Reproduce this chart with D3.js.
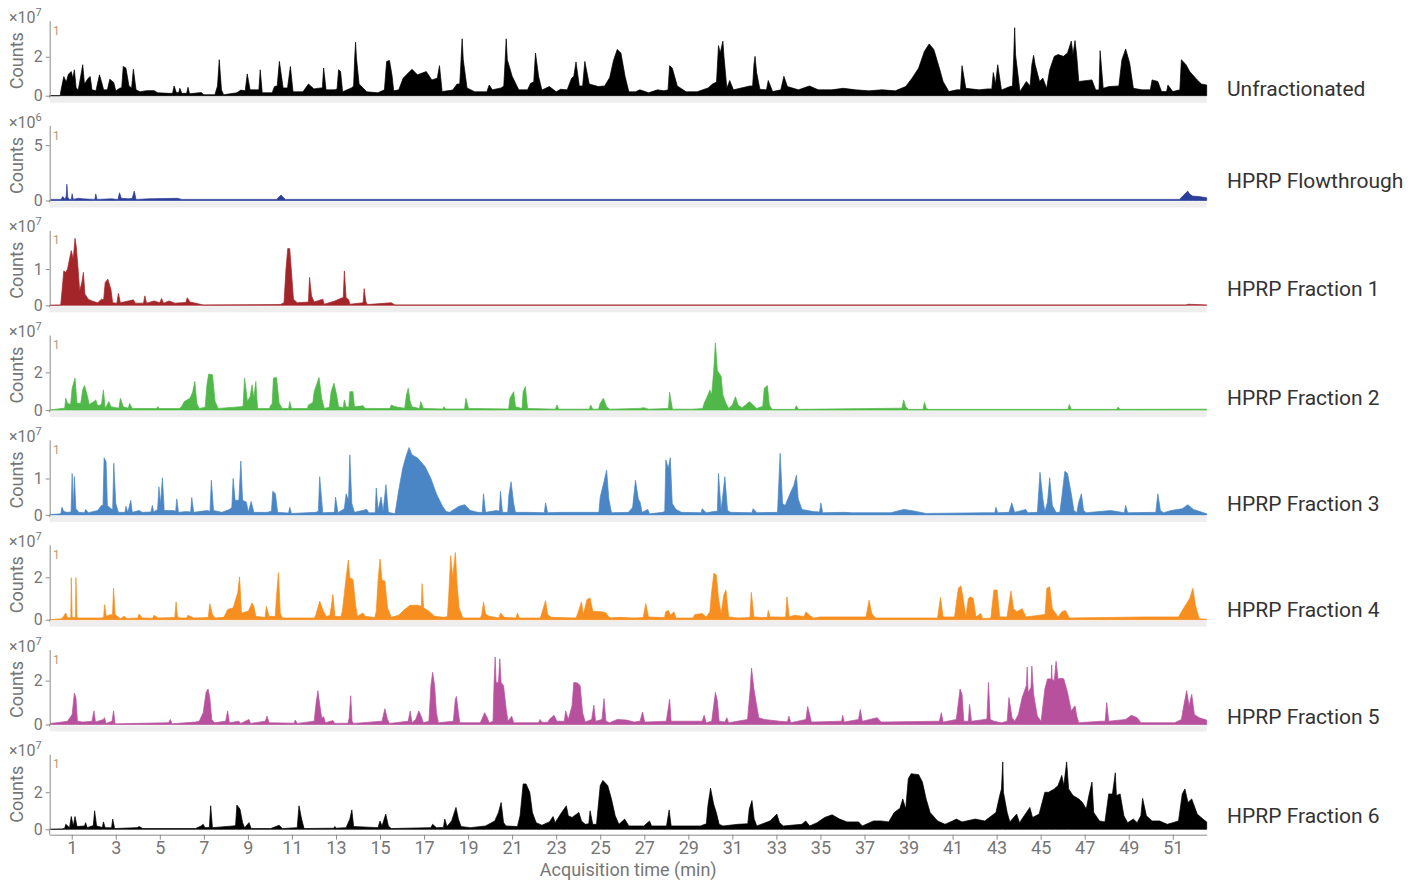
<!DOCTYPE html>
<html>
<head>
<meta charset="utf-8">
<script src="https://cdn.jsdelivr.net/npm/d3@7"></script>
<style>
body { margin: 0; background: #fff; }
text { font-family: Roboto, "Noto Sans", sans-serif; }
</style>
</head>
<body>
<div id="chart"></div>
<script>
// traces: [time (min), counts in units of 10^exp]
var unfractionated = [[0,0],[0.48,0],[0.5,0.2],[0.64,0.98],[0.75,0.7],[0.85,1.1],[0.98,1.24],[1.05,0.9],[1.12,1.33],[1.2,0.4],[1.3,0.3],[1.5,1.59],[1.58,0.6],[1.75,0.9],[1.84,0.98],[1.92,0.3],[2.1,0.25],[2.26,1.07],[2.35,0.73],[2.45,0.3],[2.62,0.3],[2.73,0.85],[2.91,0.67],[3.0,0.25],[3.2,0.4],[3.27,0.4],[3.34,1.5],[3.46,1.42],[3.6,0.5],[3.72,0.4],[3.8,1.36],[3.92,0.3],[4.1,0.2],[4.4,0.26],[4.74,0.26],[4.9,0.15],[5.4,0.12],[5.58,0.12],[5.65,0.5],[5.75,0.16],[5.86,0.15],[5.91,0.38],[6.0,0.12],[6.22,0.12],[6.28,0.43],[6.35,0.1],[6.88,0.16],[7.0,0.05],[7.5,0.05],[7.62,0.5],[7.7,1.85],[7.8,0.3],[7.9,0.05],[8.5,0.15],[8.68,0.29],[8.88,0.25],[8.97,1.12],[9.1,0.3],[9.4,0.3],[9.5,0.3],[9.56,1.33],[9.65,0.15],[10.1,0.15],[10.21,0.47],[10.33,0.5],[10.43,1.76],[10.6,0.4],[10.8,0.4],[10.93,1.5],[11.05,0.2],[11.5,0.2],[11.75,0.6],[12.0,0.35],[12.3,0.4],[12.38,0.4],[12.44,1.42],[12.55,0.3],[12.95,0.3],[13.05,0.35],[13.12,1.33],[13.21,1.24],[13.3,0.2],[13.7,0.4],[13.8,0.5],[13.85,1.93],[13.89,2.75],[13.93,1.93],[14.05,0.6],[14.4,0.2],[14.9,0.15],[15.2,0.3],[15.3,1.76],[15.43,1.81],[15.55,1.0],[15.62,0.25],[15.85,0.3],[16.05,0.9],[16.45,1.36],[16.7,1.07],[17.1,1.24],[17.35,0.81],[17.6,0.9],[17.7,1.54],[17.82,0.21],[18.3,0.29],[18.5,0.6],[18.62,0.6],[18.68,1.85],[18.73,2.92],[18.78,1.85],[18.95,0.4],[19.3,0.2],[19.85,0.2],[19.96,0.55],[20.1,0.3],[20.5,0.4],[20.62,0.5],[20.68,1.76],[20.73,2.92],[20.78,1.85],[21.0,1.0],[21.3,0.3],[21.7,0.3],[21.84,0.64],[21.98,0.7],[22.06,2.19],[22.2,1.0],[22.35,0.29],[22.69,0.47],[23.0,0.2],[23.2,0.33],[23.5,0.3],[23.7,0.9],[23.8,1.0],[23.9,1.73],[24.05,0.5],[24.2,0.5],[24.3,1.76],[24.5,0.6],[24.91,0.47],[25.2,0.5],[25.43,0.93],[25.6,1.8],[25.77,2.37],[25.94,2.19],[26.13,0.98],[26.3,0.2],[26.6,0.2],[26.8,0.3],[27.2,0.15],[27.6,0.3],[27.9,0.25],[28.08,0.3],[28.15,1.54],[28.27,1.42],[28.5,0.5],[28.9,0.2],[29.4,0.2],[29.9,0.4],[30.1,0.6],[30.28,0.7],[30.37,2.57],[30.45,2.2],[30.57,2.8],[30.62,2.0],[30.75,0.38],[30.88,0.78],[31.05,0.3],[31.8,0.5],[31.92,0.5],[31.98,1.59],[32.03,2.02],[32.1,1.2],[32.25,0.33],[32.55,0.3],[32.63,0.78],[32.83,0.21],[33.2,0.3],[33.34,1.0],[33.5,0.47],[34.0,0.3],[34.5,0.5],[34.9,0.3],[35.5,0.3],[36.04,0.38],[36.6,0.3],[37.2,0.25],[37.8,0.3],[38.4,0.25],[38.87,0.47],[39.16,0.9],[39.46,1.42],[39.72,2.28],[39.94,2.66],[40.15,2.37],[40.4,1.42],[40.57,0.73],[40.83,0.21],[41.2,0.3],[41.36,0.3],[41.43,1.54],[41.6,0.38],[42.2,0.3],[42.6,0.35],[42.78,0.35],[42.85,1.19],[42.95,0.6],[43.05,1.59],[43.22,0.29],[43.6,0.47],[43.72,0.5],[43.78,2.1],[43.82,3.49],[43.86,2.1],[44.06,0.21],[44.35,0.73],[44.52,0.5],[44.6,1.59],[44.68,2.07],[44.75,1.59],[44.95,0.73],[45.1,0.9],[45.27,0.38],[45.41,1.33],[45.62,2.02],[45.79,2.11],[46.04,2.02],[46.22,2.19],[46.39,2.8],[46.47,2.11],[46.56,2.83],[46.64,2.02],[46.73,0.73],[47.33,0.81],[47.5,0.29],[47.65,0.3],[47.7,2.31],[47.84,0.38],[48.1,0.47],[48.55,0.5],[48.69,1.85],[48.86,2.4],[49.04,1.68],[49.21,0.38],[49.6,0.3],[49.98,0.3],[50.06,0.81],[50.32,0.73],[50.49,0.21],[50.72,0.21],[50.78,0.55],[51.0,0.21],[51.32,0.3],[51.39,1.85],[51.6,1.59],[51.77,1.24],[52.11,0.81],[52.3,0.6],[52.54,0.55],[52.54,0]];

var flowthrough = [[0,0],[0.05,0.1],[0.5,0.1],[0.6,0.35],[0.7,0.1],[0.75,0.4],[0.78,1.46],[0.82,0.3],[0.9,0.1],[0.98,0.1],[1.02,0.6],[1.07,0.1],[1.3,0.2],[1.5,0.15],[2.05,0.1],[2.09,0.6],[2.15,0.1],[2.8,0.15],[3.1,0.1],[3.17,0.7],[3.25,0.2],[3.6,0.15],[3.75,0.2],[3.84,0.85],[3.92,0.1],[4.5,0.15],[5.8,0.2],[6.0,0.1],[10.3,0.1],[10.5,0.5],[10.7,0.1],[51.3,0.1],[51.45,0.4],[51.68,0.85],[51.75,0.6],[51.9,0.4],[52.2,0.35],[52.54,0.25],[52.54,0]];

var fraction1 = [[0,0],[0.5,0.01],[0.56,0.4],[0.64,0.95],[0.73,0.91],[0.81,1.0],[0.9,1.28],[0.98,1.51],[1.07,1.28],[1.15,1.85],[1.21,1.6],[1.29,1.0],[1.36,0.4],[1.46,0.63],[1.53,0.91],[1.6,0.31],[1.75,0.17],[1.92,0.12],[2.18,0.07],[2.35,0.17],[2.45,0.15],[2.52,0.63],[2.64,0.72],[2.78,0.44],[2.86,0.07],[3.05,0.06],[3.12,0.33],[3.21,0.07],[3.8,0.15],[3.89,0.06],[4.26,0.06],[4.32,0.26],[4.4,0.06],[4.74,0.12],[5.0,0.07],[5.08,0.19],[5.17,0.06],[5.43,0.12],[5.68,0.06],[6.18,0.08],[6.25,0.21],[6.37,0.09],[6.54,0.07],[6.97,0.01],[10.47,0.02],[10.64,0.07],[10.73,1.0],[10.81,1.57],[10.9,1.56],[10.98,0.91],[11.07,0.17],[11.24,0.07],[11.75,0.09],[11.8,0.77],[11.89,0.26],[12.01,0.09],[12.4,0.17],[12.47,0.03],[12.95,0.12],[13.29,0.21],[13.33,0.2],[13.38,0.95],[13.46,0.21],[13.58,0.15],[13.63,0.03],[14.23,0.07],[14.28,0.46],[14.35,0.12],[14.42,0.02],[15.51,0.07],[15.68,0.01],[51.6,0.01],[51.7,0.03],[52.54,0.01],[52.54,0]];

var fraction2 = [[0,0],[0.56,0.09],[0.68,0.1],[0.73,0.63],[0.81,0.36],[0.95,0.3],[1.02,1.16],[1.15,1.7],[1.24,0.36],[1.41,0.36],[1.5,1.07],[1.58,1.3],[1.7,0.8],[1.8,0.3],[2.01,0.45],[2.09,0.54],[2.18,0.23],[2.35,0.3],[2.44,1.07],[2.52,0.09],[2.69,0.45],[2.78,0.18],[3.14,0.1],[3.21,0.63],[3.34,0.18],[3.57,0.1],[3.63,0.36],[3.75,0.09],[4.85,0.08],[4.91,0.18],[4.97,0.08],[5.9,0.08],[6.0,0.2],[6.11,0.45],[6.37,0.63],[6.49,0.95],[6.59,1.52],[6.68,0.36],[6.79,0.09],[7.06,0.15],[7.14,1.34],[7.22,1.91],[7.39,1.88],[7.51,0.45],[7.65,0.09],[8.68,0.18],[8.78,0.2],[8.85,1.7],[8.98,0.45],[9.1,0.71],[9.19,1.34],[9.27,0.63],[9.36,1.52],[9.44,0.09],[9.98,0.08],[10.04,0.27],[10.1,0.3],[10.16,1.7],[10.3,1.73],[10.42,0.36],[10.56,0.09],[10.85,0.08],[10.9,0.45],[10.98,0.09],[11.7,0.08],[11.75,0.27],[11.95,0.4],[12.01,0.98],[12.23,1.73],[12.35,0.63],[12.47,0.09],[12.7,0.15],[12.78,0.98],[12.91,1.43],[13.03,0.8],[13.12,0.18],[13.33,0.12],[13.38,0.54],[13.46,0.18],[13.58,0.15],[13.63,0.98],[13.77,0.98],[13.84,0.18],[14.23,0.23],[14.32,0.09],[15.45,0.08],[15.51,0.27],[15.68,0.18],[16.12,0.1],[16.2,0.8],[16.28,1.16],[16.37,0.45],[16.45,0.18],[16.79,0.08],[16.85,0.45],[16.97,0.09],[17.85,0.06],[17.91,0.18],[17.97,0.06],[18.84,0.06],[18.9,0.63],[19.02,0.09],[20.84,0.06],[20.9,0.63],[21.07,0.98],[21.15,0.18],[21.45,0.08],[21.5,0.98],[21.6,1.25],[21.7,0.09],[22.97,0.05],[23.03,0.27],[23.12,0.05],[24.5,0.05],[24.57,0.27],[24.66,0.05],[24.92,0.05],[25.0,0.36],[25.14,0.63],[25.29,0.18],[25.43,0.05],[26.8,0.09],[26.98,0.13],[27.2,0.05],[28.1,0.09],[28.15,0.95],[28.22,0.45],[28.28,0.05],[29.2,0.05],[29.65,0.08],[29.72,0.36],[29.89,0.8],[29.98,1.07],[30.06,0.8],[30.15,2.05],[30.23,3.57],[30.32,2.09],[30.4,1.95],[30.49,1.79],[30.57,0.8],[30.71,0.36],[30.83,0.09],[31.0,0.27],[31.14,0.71],[31.26,0.27],[31.43,0.13],[31.6,0.27],[31.77,0.45],[31.94,0.27],[32.11,0.09],[32.38,0.2],[32.45,1.16],[32.59,1.3],[32.68,0.27],[32.8,0.04],[33.84,0.04],[33.9,0.23],[34.0,0.04],[38.6,0.1],[38.7,0.1],[38.78,0.54],[38.87,0.18],[38.99,0.04],[39.66,0.04],[39.72,0.41],[39.81,0.09],[39.9,0.04],[46.24,0.04],[46.3,0.3],[46.39,0.04],[48.46,0.04],[48.52,0.16],[48.6,0.04],[52.54,0.05],[52.54,0]];

var fraction3 = [[0,0],[0.04,0.01],[0.5,0.03],[0.56,0.21],[0.64,0.09],[0.81,0.07],[0.97,0.08],[1.02,1.14],[1.07,0.2],[1.12,1.05],[1.19,0.17],[1.32,0.07],[1.58,0.06],[1.63,0.15],[1.75,0.06],[2.18,0.12],[2.35,0.26],[2.42,0.25],[2.47,1.57],[2.56,1.46],[2.62,0.26],[2.78,0.17],[2.86,0.15],[2.91,1.42],[3.0,0.31],[3.12,0.07],[3.42,0.07],[3.46,0.24],[3.55,0.07],[3.68,0.4],[3.75,0.07],[4.06,0.12],[4.2,0.07],[4.6,0.08],[4.66,0.26],[4.72,0.08],[4.9,0.15],[4.96,0.77],[5.03,0.3],[5.12,1.02],[5.2,0.12],[5.6,0.12],[5.72,0.1],[5.77,0.44],[5.85,0.07],[6.2,0.09],[6.4,0.08],[6.45,0.48],[6.54,0.07],[7.14,0.12],[7.28,0.1],[7.34,0.95],[7.44,0.12],[7.82,0.07],[8.16,0.15],[8.27,0.2],[8.33,1.0],[8.42,0.4],[8.59,0.4],[8.68,1.48],[8.76,0.4],[8.93,0.35],[9.02,0.07],[9.15,0.37],[9.27,0.07],[9.87,0.07],[10.07,0.1],[10.13,0.65],[10.25,0.58],[10.35,0.07],[10.85,0.05],[10.9,0.21],[10.98,0.04],[12.09,0.07],[12.2,0.1],[12.26,1.05],[12.4,0.06],[12.86,0.07],[12.93,0.07],[12.98,0.49],[13.09,0.06],[13.38,0.17],[13.46,0.58],[13.57,0.4],[13.63,1.65],[13.72,0.31],[13.84,0.07],[14.4,0.15],[14.49,0.06],[14.78,0.06],[14.83,0.74],[14.91,0.12],[15.05,0.49],[15.14,0.09],[15.27,0.83],[15.38,0.07],[15.68,0.03],[15.85,0.68],[16.03,1.28],[16.2,1.65],[16.32,1.85],[16.45,1.65],[16.71,1.56],[17.05,1.32],[17.31,1.0],[17.56,0.58],[17.82,0.26],[18.0,0.09],[18.16,0.07],[18.59,0.24],[18.85,0.28],[19.1,0.12],[19.44,0.07],[19.64,0.07],[19.7,0.58],[19.79,0.07],[20.3,0.12],[20.42,0.1],[20.47,0.65],[20.56,0.07],[20.8,0.07],[20.85,0.54],[20.95,0.91],[21.07,0.31],[21.15,0.07],[21.67,0.07],[22.46,0.06],[22.52,0.33],[22.61,0.06],[23.29,0.07],[24.94,0.07],[25.0,0.49],[25.17,0.91],[25.29,1.23],[25.39,0.44],[25.51,0.06],[26.28,0.07],[26.47,0.2],[26.6,0.95],[26.73,0.44],[26.81,0.35],[26.9,0.07],[27.16,0.15],[27.24,0.03],[27.84,0.07],[27.93,0.1],[27.98,1.51],[28.09,1.28],[28.18,1.57],[28.27,0.31],[28.44,0.15],[28.69,0.07],[29.58,0.06],[29.63,0.17],[29.81,0.06],[30.15,0.09],[30.32,0.1],[30.37,1.14],[30.49,0.12],[30.66,1.05],[30.78,0.12],[30.92,0.07],[31.89,0.06],[31.94,0.17],[32.11,0.06],[33.05,0.07],[33.17,1.69],[33.28,0.31],[33.4,0.26],[33.65,0.63],[33.79,0.81],[33.91,1.09],[33.99,0.44],[34.16,0.15],[34.68,0.09],[34.96,0.08],[35.02,0.33],[35.1,0.06],[36.1,0.07],[36.4,0.06],[38.2,0.06],[38.78,0.15],[39.12,0.12],[39.8,0.04],[42.54,0.06],[42.92,0.06],[42.97,0.21],[43.05,0.06],[43.56,0.07],[43.69,0.33],[43.82,0.07],[44.33,0.15],[44.41,0.06],[44.85,0.07],[44.97,1.17],[45.1,0.44],[45.19,0.09],[45.31,0.35],[45.41,1.02],[45.53,0.26],[45.7,0.07],[45.87,0.07],[45.96,0.49],[46.1,1.2],[46.22,1.14],[46.39,0.58],[46.51,0.12],[46.64,0.06],[46.73,0.35],[46.85,0.58],[46.95,0.12],[47.07,0.06],[48.18,0.12],[48.8,0.06],[48.86,0.26],[48.95,0.06],[50.23,0.07],[50.32,0.58],[50.44,0.12],[50.58,0.06],[50.92,0.12],[51.43,0.17],[51.68,0.28],[51.94,0.15],[52.54,0.03],[52.54,0]];

var fraction4 = [[0,0],[0.56,0.05],[0.73,0.32],[0.81,0.08],[0.96,0.1],[0.98,1.98],[1.02,0.1],[1.17,0.1],[1.19,1.98],[1.24,0.1],[1.29,0.08],[2.35,0.08],[2.45,0.1],[2.49,0.71],[2.57,0.16],[2.78,0.24],[2.85,0.2],[2.9,1.48],[2.97,0.24],[3.21,0.05],[3.38,0.16],[3.5,0.06],[4.0,0.08],[4.06,0.27],[4.2,0.08],[4.68,0.07],[4.74,0.21],[4.91,0.08],[5.68,0.1],[5.74,0.84],[5.8,0.16],[5.9,0.08],[6.22,0.08],[6.28,0.21],[6.54,0.08],[7.2,0.1],[7.27,0.75],[7.39,0.24],[7.5,0.08],[7.91,0.11],[8.08,0.48],[8.33,0.56],[8.54,1.27],[8.62,2.02],[8.71,0.32],[9.02,0.4],[9.19,0.79],[9.27,0.63],[9.36,0.16],[9.78,0.1],[9.84,0.63],[9.96,0.16],[10.24,0.15],[10.3,1.11],[10.39,2.22],[10.47,0.32],[10.56,0.08],[12.02,0.08],[12.09,0.24],[12.26,0.87],[12.43,0.4],[12.55,0.15],[12.72,0.2],[12.78,0.56],[12.86,1.19],[12.95,0.16],[13.22,0.15],[13.29,0.4],[13.46,1.98],[13.56,2.81],[13.63,1.98],[13.77,1.9],[13.89,0.71],[13.97,0.16],[14.23,0.32],[14.32,0.16],[14.76,0.1],[14.83,0.4],[14.91,1.83],[15.0,2.86],[15.09,1.86],[15.22,1.83],[15.34,0.56],[15.51,0.11],[15.85,0.21],[16.11,0.48],[16.37,0.68],[16.71,0.68],[16.88,0.63],[16.91,1.7],[16.98,0.56],[17.22,0.4],[17.48,0.16],[17.91,0.11],[18.06,0.15],[18.11,0.95],[18.21,3.02],[18.3,1.98],[18.42,3.17],[18.5,1.67],[18.59,0.56],[18.76,0.08],[19.56,0.08],[19.62,0.24],[19.7,0.84],[19.79,0.27],[19.96,0.16],[20.4,0.08],[20.47,0.32],[20.64,0.11],[21.18,0.08],[21.24,0.32],[21.32,0.08],[22.28,0.08],[22.35,0.32],[22.52,0.9],[22.61,0.24],[22.78,0.11],[23.9,0.08],[23.97,0.27],[24.15,0.84],[24.23,0.24],[24.4,0.95],[24.54,1.03],[24.66,0.4],[25.08,0.37],[25.26,0.32],[25.43,0.08],[25.85,0.11],[26.54,0.08],[26.95,0.1],[27.07,0.76],[27.19,0.13],[27.92,0.1],[27.97,0.37],[28.1,0.44],[28.18,0.21],[28.35,0.37],[28.44,0.08],[29.22,0.08],[29.29,0.24],[29.63,0.29],[29.81,0.13],[29.98,0.37],[30.06,1.32],[30.16,2.19],[30.27,2.11],[30.37,1.0],[30.49,0.29],[30.61,1.16],[30.71,1.4],[30.83,0.13],[31.26,0.08],[31.8,0.1],[31.86,1.29],[31.98,0.13],[32.58,0.1],[32.63,0.44],[32.71,0.13],[32.97,0.13],[33.42,0.12],[33.48,1.08],[33.58,0.13],[33.82,0.21],[34.25,0.15],[34.34,0.37],[34.51,0.21],[34.68,0.08],[35.0,0.13],[37.07,0.13],[37.21,0.92],[37.33,0.29],[37.5,0.08],[40.32,0.08],[40.45,1.05],[40.57,0.13],[41.09,0.13],[41.26,1.48],[41.38,1.6],[41.48,1.0],[41.6,0.13],[41.72,1.0],[41.82,1.08],[41.94,1.0],[42.06,0.13],[42.28,0.29],[42.37,0.05],[42.74,0.08],[42.8,0.68],[42.88,1.4],[43.02,1.4],[43.14,0.13],[43.47,0.13],[43.53,0.52],[43.65,1.35],[43.77,0.52],[43.91,0.37],[44.16,0.52],[44.33,0.13],[44.93,0.21],[45.2,0.25],[45.28,1.48],[45.41,1.56],[45.53,0.52],[45.79,0.13],[45.96,0.37],[46.13,0.44],[46.3,0.08],[49.72,0.13],[51.26,0.13],[51.43,0.44],[51.77,1.0],[51.91,1.48],[52.03,0.68],[52.11,0.37],[52.2,0.05],[52.54,0.02],[52.54,0]];

var fraction5 = [[0,0],[0.04,0.05],[0.56,0.11],[0.81,0.15],[1.02,0.46],[1.12,1.43],[1.19,1.23],[1.26,0.15],[1.5,0.11],[1.92,0.15],[2.01,0.62],[2.08,0.11],[2.44,0.23],[2.49,0.31],[2.56,0.05],[2.83,0.15],[2.9,0.62],[2.97,0.03],[5.4,0.08],[5.48,0.23],[5.55,0.03],[6.62,0.11],[6.79,0.15],[6.97,0.54],[7.1,1.46],[7.19,1.62],[7.27,1.23],[7.36,0.23],[7.48,0.08],[7.99,0.15],[8.08,0.62],[8.16,0.08],[8.59,0.15],[8.68,0.05],[9.05,0.23],[9.12,0.05],[9.79,0.15],[9.87,0.38],[9.96,0.08],[11.1,0.06],[11.15,0.2],[11.24,0.05],[12.01,0.15],[12.09,0.92],[12.18,1.54],[12.26,0.92],[12.35,0.31],[12.44,0.35],[12.52,0.08],[12.86,0.18],[12.95,0.05],[13.55,0.06],[13.6,0.31],[13.67,1.31],[13.73,0.15],[13.8,0.05],[15.09,0.15],[15.22,0.72],[15.34,0.23],[15.43,0.05],[16.28,0.15],[16.37,0.62],[16.45,0.08],[16.62,0.23],[16.76,0.62],[16.88,0.35],[16.97,0.08],[17.22,0.15],[17.31,1.77],[17.39,2.38],[17.48,1.77],[17.56,0.54],[17.65,0.08],[18.33,0.15],[18.42,1.15],[18.47,1.28],[18.56,0.54],[18.62,0.08],[19.55,0.08],[19.62,0.23],[19.75,0.54],[19.87,0.31],[19.96,0.08],[20.13,0.15],[20.18,1.92],[20.23,3.08],[20.27,1.92],[20.38,1.92],[20.44,3.0],[20.5,1.92],[20.61,1.77],[20.73,0.69],[20.81,0.15],[20.98,0.38],[21.07,0.08],[22.2,0.08],[22.27,0.23],[22.35,0.1],[22.62,0.1],[22.69,0.23],[22.9,0.42],[23.03,0.15],[23.37,0.15],[23.43,0.62],[23.55,0.23],[23.72,0.85],[23.8,1.92],[23.97,1.89],[24.09,1.77],[24.2,0.54],[24.32,0.11],[24.61,0.23],[24.71,0.88],[24.79,0.15],[25.08,0.23],[25.17,1.18],[25.26,0.15],[25.43,0.08],[25.77,0.23],[26.2,0.2],[26.54,0.11],[26.81,0.15],[26.92,0.57],[27.02,0.11],[28.0,0.15],[28.15,1.15],[28.22,0.15],[29.63,0.15],[29.72,0.42],[29.81,0.08],[30.06,0.15],[30.23,1.46],[30.32,1.08],[30.4,0.15],[30.66,0.11],[30.75,0.31],[30.83,0.08],[31.69,0.23],[31.81,1.62],[31.87,2.57],[31.98,1.62],[32.08,1.0],[32.2,0.31],[32.45,0.23],[33.14,0.15],[33.5,0.12],[33.57,0.38],[33.65,0.08],[34.34,0.23],[34.42,0.82],[34.51,0.46],[34.59,0.11],[35.96,0.15],[36.01,0.42],[36.08,0.11],[36.73,0.23],[36.81,0.69],[36.9,0.15],[37.58,0.31],[37.75,0.11],[40.4,0.15],[40.49,0.54],[40.57,0.11],[41.17,0.23],[41.34,1.62],[41.43,1.38],[41.51,0.15],[41.72,0.15],[41.77,0.92],[41.86,0.15],[42.46,0.23],[42.56,0.25],[42.63,1.92],[42.71,0.23],[42.88,0.15],[43.22,0.08],[43.48,0.15],[43.56,1.23],[43.7,0.31],[43.82,0.15],[43.99,0.46],[44.16,1.23],[44.35,1.77],[44.39,2.62],[44.43,1.46],[44.56,1.69],[44.6,2.66],[44.68,1.38],[44.85,0.38],[45.02,0.15],[45.19,1.62],[45.31,2.08],[45.48,2.08],[45.5,2.72],[45.52,2.08],[45.62,2.0],[45.7,2.88],[45.79,2.08],[45.96,2.11],[46.05,2.08],[46.22,1.46],[46.39,0.62],[46.56,0.85],[46.64,0.38],[46.73,0.08],[47.75,0.15],[47.93,0.15],[48.0,1.0],[48.09,0.15],[48.86,0.23],[49.12,0.42],[49.38,0.31],[49.55,0.08],[51.09,0.08],[51.39,0.23],[51.51,0.92],[51.63,1.54],[51.74,0.85],[51.86,1.38],[51.98,0.46],[52.2,0.31],[52.54,0.2],[52.54,0]];

var fraction6 = [[0,0],[0.56,0.02],[0.68,0.05],[0.73,0.27],[0.9,0.09],[0.98,0.69],[1.07,0.18],[1.15,0.69],[1.24,0.15],[1.58,0.18],[1.63,0.36],[1.7,0.09],[1.92,0.18],[1.98,0.2],[2.04,1.0],[2.13,0.18],[2.39,0.1],[2.44,0.4],[2.52,0.09],[2.81,0.08],[2.86,0.55],[2.95,0.04],[3.97,0.09],[4.06,0.15],[4.23,0.04],[6.62,0.04],[6.88,0.18],[6.97,0.27],[7.05,0.09],[7.25,0.1],[7.31,1.27],[7.39,0.09],[8.33,0.18],[8.44,0.2],[8.5,1.31],[8.64,1.09],[8.76,0.36],[8.85,0.09],[9.05,0.36],[9.15,0.04],[10.04,0.04],[10.42,0.22],[10.56,0.04],[11.24,0.09],[11.32,1.27],[11.44,0.55],[11.55,0.04],[12.9,0.06],[12.95,0.15],[13.0,0.06],[13.46,0.09],[13.63,0.55],[13.72,1.05],[13.8,0.15],[14.91,0.09],[15.0,0.45],[15.09,0.18],[15.26,0.82],[15.38,0.18],[15.51,0.04],[17.31,0.09],[17.39,0.27],[17.56,0.09],[17.88,0.1],[17.94,0.55],[18.04,0.15],[18.25,0.45],[18.45,1.18],[18.56,0.55],[18.68,0.15],[19.1,0.09],[19.79,0.18],[20.21,0.45],[20.38,0.91],[20.5,1.45],[20.61,0.36],[20.73,0.18],[21.24,0.15],[21.36,0.73],[21.5,2.45],[21.63,2.45],[21.8,2.0],[21.92,0.91],[22.09,0.36],[22.35,0.22],[22.69,0.4],[22.86,0.69],[22.95,0.36],[23.2,0.82],[23.46,1.27],[23.55,0.73],[23.72,0.64],[24.03,0.91],[24.15,0.45],[24.32,0.27],[24.48,0.3],[24.54,1.0],[24.66,0.27],[24.83,0.27],[25.0,2.36],[25.12,2.64],[25.34,2.36],[25.51,1.64],[25.68,0.73],[25.85,0.27],[26.11,0.55],[26.3,0.18],[26.98,0.18],[27.24,0.45],[27.33,0.18],[28.01,0.18],[28.13,1.05],[28.22,0.18],[29.55,0.18],[29.82,0.3],[29.89,1.27],[30.01,2.22],[30.15,1.36],[30.27,0.91],[30.4,0.27],[30.57,0.18],[31.26,0.27],[31.7,0.3],[31.77,1.09],[31.89,1.55],[31.99,0.55],[32.11,0.18],[32.71,0.45],[33.02,0.82],[33.14,0.36],[33.31,0.18],[34.16,0.27],[34.33,0.45],[34.51,0.18],[34.85,0.36],[35.19,0.64],[35.53,0.78],[35.87,0.55],[36.21,0.4],[36.73,0.4],[36.9,0.18],[37.41,0.45],[37.75,0.45],[38.1,0.4],[38.35,0.91],[38.61,1.13],[38.74,1.64],[38.87,1.09],[38.99,2.73],[39.12,3.0],[39.46,2.95],[39.63,2.55],[39.8,1.64],[39.98,0.91],[40.32,0.45],[40.66,0.27],[41.0,0.45],[41.17,0.55],[41.43,0.4],[42.03,0.55],[42.46,0.45],[42.97,0.91],[43.14,1.82],[43.22,2.18],[43.28,3.64],[43.31,2.0],[43.48,0.91],[43.6,0.4],[43.91,0.82],[44.04,0.36],[44.25,0.73],[44.51,1.18],[44.63,0.64],[44.93,0.82],[45.19,2.0],[45.36,2.0],[45.62,2.18],[45.79,2.36],[45.96,2.91],[46.05,2.36],[46.18,3.64],[46.27,2.18],[46.47,1.82],[46.73,1.64],[46.9,1.45],[47.07,1.09],[47.19,1.82],[47.33,2.55],[47.41,0.91],[47.67,0.45],[47.92,0.4],[48.09,1.91],[48.26,1.91],[48.39,3.05],[48.44,1.82],[48.61,1.91],[48.78,0.73],[48.95,0.36],[49.21,0.55],[49.38,0.36],[49.55,0.73],[49.63,1.67],[49.8,0.73],[50.06,0.45],[50.4,0.45],[50.75,0.27],[51.26,0.45],[51.43,1.91],[51.55,2.18],[51.69,1.45],[51.86,1.64],[52.11,0.82],[52.37,0.55],[52.54,0.4],[52.54,0]];

var seriesNames = ["Unfractionated", "HPRP Flowthrough", "HPRP Fraction 1", "HPRP Fraction 2",
                   "HPRP Fraction 3", "HPRP Fraction 4", "HPRP Fraction 5", "HPRP Fraction 6"];
var seriesData = [unfractionated, flowthrough, fraction1, fraction2, fraction3, fraction4, fraction5, fraction6];
var seriesExp = [7, 6, 7, 7, 7, 7, 7, 7];
var yMax = [3.85, 6.77, 2.07, 3.98, 2.06, 3.54, 3.42, 4.05];
var yTickVals = [[0, 2], [0, 5], [0, 1], [0, 2], [0, 1], [0, 2], [0, 2], [0, 2]];
var xTickVals = [1, 3, 5, 7, 9, 11, 13, 15, 17, 19, 21, 23, 25, 27, 29, 31, 33, 35, 37, 39, 41, 43, 45, 47, 49, 51];
var xDomain = [0, 52.54];

var cfg = {
    width: 1421,
    height: 882,
    left: 49.7,
    right: 1206.7,
    firstZero: 95.7,
    pitch: 104.8,
    panelH: 75,
    colors: ["#000000", "#2c3e99", "#a3252a", "#50b848", "#4a86c5", "#f68e20", "#b8519d", "#000000"],
    labelShift: [-6.7, -19.5, -16.3, -12.1, -10.9, -9.7, -7.5, -13.3]
};

var axisGray = "#8c8c8c",
    textGray = "#767676";

var svg = d3.select("#chart").append("svg")
    .attr("width", cfg.width)
    .attr("height", cfg.height);

var x = d3.scaleLinear().domain(xDomain).range([cfg.left, cfg.right]);

seriesData.forEach(function(data, i) {
    var zero = cfg.firstZero + i * cfg.pitch;
    var y = d3.scaleLinear().domain([0, yMax[i]]).range([zero, zero - cfg.panelH]);
    var g = svg.append("g").attr("class", "panel");

    // light strip under every panel except the last one (which has the real x axis)
    if (i < seriesData.length - 1) {
        g.append("rect")
            .attr("x", cfg.left)
            .attr("y", zero + 1)
            .attr("width", cfg.right - cfg.left)
            .attr("height", 6)
            .attr("fill", "#eeeeee");
    }

    var area = d3.area()
        .x(function(d) { return x(d[0]); })
        .y0(zero)
        .y1(function(d) { return y(d[1]); });

    g.append("path")
        .datum(data)
        .attr("d", area)
        .attr("fill", cfg.colors[i])
        .attr("stroke", cfg.colors[i])
        .attr("stroke-width", 0.7)
        .attr("stroke-linejoin", "miter");

    var yAxis = d3.axisLeft(y)
        .tickValues(yTickVals[i])
        .tickSizeInner(4)
        .tickSizeOuter(0)
        .tickPadding(3)
        .tickFormat(d3.format("d"));

    var ya = g.append("g")
        .attr("transform", "translate(" + cfg.left + ",0)")
        .call(yAxis);
    ya.select(".domain").attr("stroke", axisGray);
    ya.selectAll(".tick line").attr("stroke", axisGray);
    ya.selectAll(".tick text")
        .attr("fill", textGray)
        .style("font-size", "16px")
        .style("font-family", "Roboto, sans-serif");

    // axis line runs a little past the zero tick
    g.append("line")
        .attr("x1", cfg.left).attr("x2", cfg.left)
        .attr("y1", zero)
        .attr("y2", i < seriesData.length - 1 ? zero + 2 : zero + 5.4)
        .attr("stroke", axisGray);

    var expLabel = g.append("text")
        .attr("x", 9)
        .attr("y", zero - cfg.panelH + 2)
        .attr("fill", textGray)
        .style("font-size", "16px");
    expLabel.append("tspan").text("\u00d710");
    expLabel.append("tspan")
        .attr("dy", -7)
        .style("font-size", "11px")
        .text(seriesExp[i]);

    g.append("text")
        .attr("x", 53)
        .attr("y", zero - cfg.panelH + 14)
        .attr("fill", "#b99b78")
        .style("font-size", "12px")
        .text("1");

    g.append("text")
        .attr("transform", "translate(23," + (zero - cfg.panelH / 2 + 2.5) + ") rotate(-90)")
        .attr("text-anchor", "middle")
        .attr("fill", textGray)
        .style("font-size", "18px")
        .text("Counts");

    g.append("text")
        .attr("x", 1227)
        .attr("y", zero + cfg.labelShift[i])
        .attr("dy", "0.35em")
        .attr("fill", "#333333")
        .style("font-size", "21px")
        .text(seriesNames[i]);
});

var bottomY = cfg.firstZero + (seriesData.length - 1) * cfg.pitch + 5.4;

var xAxis = d3.axisBottom(x)
    .tickValues(xTickVals)
    .tickSizeInner(5)
    .tickSizeOuter(0)
    .tickPadding(2)
    .tickFormat(d3.format("d"));

var xa = svg.append("g")
    .attr("transform", "translate(0," + bottomY + ")")
    .call(xAxis);
xa.select(".domain").attr("stroke", axisGray);
xa.selectAll(".tick line").attr("stroke", axisGray);
xa.selectAll(".tick text")
    .attr("fill", textGray)
    .style("font-size", "18px")
    .style("font-family", "Roboto, sans-serif");

svg.append("text")
    .attr("x", (cfg.left + cfg.right) / 2)
    .attr("y", 876)
    .attr("text-anchor", "middle")
    .attr("fill", textGray)
    .style("font-size", "18px")
    .text("Acquisition time (min)");
</script>
</body>
</html>
